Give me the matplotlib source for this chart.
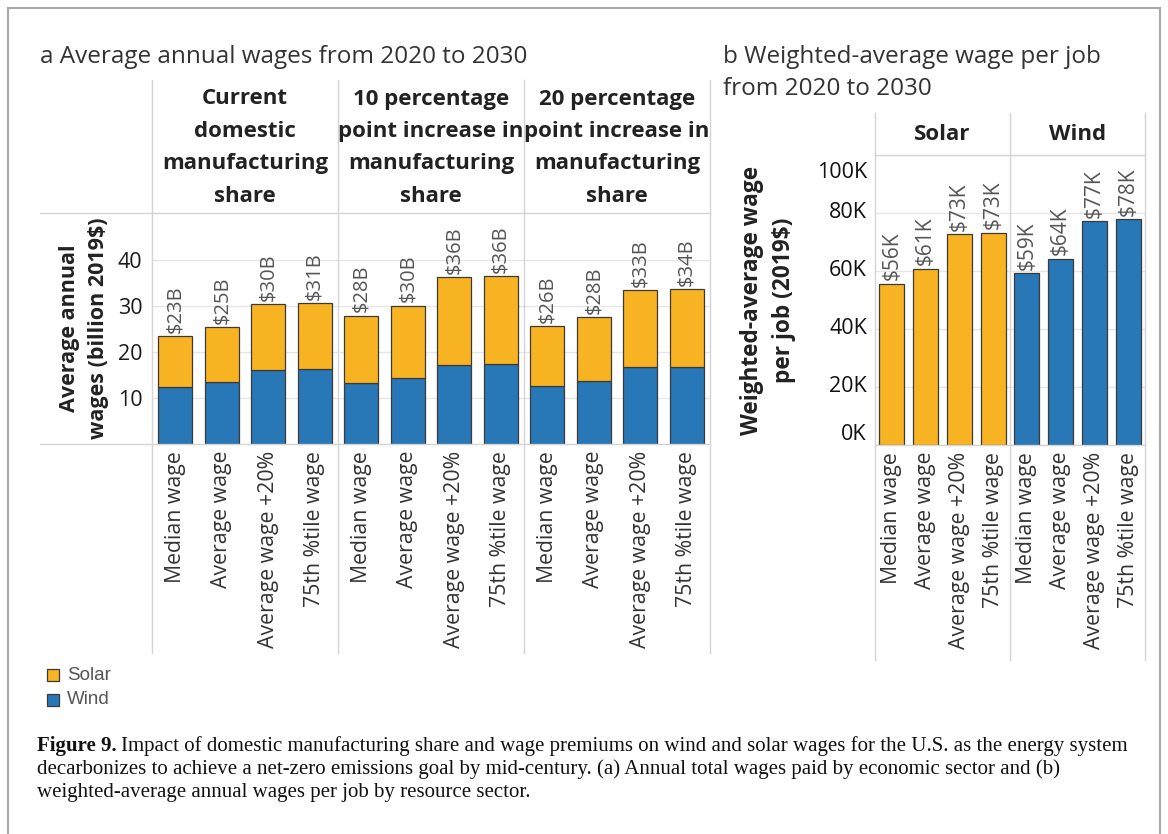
import matplotlib
matplotlib.use("Agg")
import matplotlib.pyplot as plt
from matplotlib.lines import Line2D
from matplotlib.patches import Rectangle
import matplotlib.transforms as mtransforms

# ---- data -------------------------------------------------------------
wage_levels = ["Median wage", "Average wage", "Average wage +20%", "75th %tile wage"]
scenarios = [
    "Current\ndomestic\nmanufacturing\nshare",
    "10 percentage\npoint increase in\nmanufacturing\nshare",
    "20 percentage\npoint increase in\nmanufacturing\nshare",
]
# Average annual wages, billion 2019$ (per scenario, per wage level)
wind_wages = [12.3, 13.4, 16.0, 16.3,
              13.3, 14.3, 17.2, 17.5,
              12.7, 13.8, 16.7, 16.7]
total_wages = [23.4, 25.4, 30.4, 30.7,
               27.9, 30.1, 36.3, 36.45,
               25.7, 27.6, 33.4, 33.6]
# Weighted-average wage per job, thousand 2019$
sectors = ["Solar", "Wind"]
solar_per_job = [55.6, 60.7, 72.6, 73.2]
wind_per_job = [59.2, 64.2, 77.1, 77.8]

ticks_a = [10, 20, 30, 40]
ticks_b = [0, 20, 40, 60, 80, 100]

SOLAR = "#F8B323"
WIND = "#2877B6"
EDGE = "#3a3a3a"
GRID = "#e6e6e6"
SEP = "#d4d4d4"
TXT = "#333333"

SANS = ["Open Sans", "DejaVu Sans"]
plt.rcParams["font.family"] = SANS

W, H = 1168, 834
fig = plt.figure(figsize=(W / 100, H / 100), dpi=100)


def fx(px):
    return px / W


def fy(py):
    return 1 - py / H


def fline(x0, y0, x1, y1, color=SEP, lw=1.0):
    fig.add_artist(Line2D([fx(x0), fx(x1)], [fy(y0), fy(y1)],
                          transform=fig.transFigure, color=color, lw=lw))


def add_axes_px(left, top, right, bottom):
    return fig.add_axes([fx(left), fy(bottom), (right - left) / W, (bottom - top) / H])


# outer frame (open at the bottom edge of the page)
fig.add_artist(Rectangle((fx(8), fy(850)), (1160 - 8) / W, (850 - 8) / H,
                         transform=fig.transFigure, fill=False,
                         edgecolor="#a8a8a8", lw=1.5))

# ---- panel a ----------------------------------------------------------
A_L, A_T, A_R, A_B = 152, 213, 710, 444
axA = add_axes_px(A_L, A_T, A_R, A_B)
n_a = len(total_wages)
xa = list(range(n_a))
solar_wages = [t - w for t, w in zip(total_wages, wind_wages)]
axA.bar(xa, wind_wages, width=0.74, color=WIND, edgecolor=EDGE, linewidth=0.9, zorder=3)
axA.bar(xa, solar_wages, bottom=wind_wages, width=0.74, color=SOLAR,
        edgecolor=EDGE, linewidth=0.9, zorder=3)
for x, t in zip(xa, total_wages):
    axA.text(x, t + 0.7, f"${t:.0f}B", rotation=90, ha="center", va="bottom",
             fontsize=14.5, color="#555555", zorder=4)
axA.set_xlim(-0.5, n_a - 0.5)
axA.set_ylim(0, (A_B - A_T) / 4.6)
axA.set_yticks(ticks_a)
axA.set_yticklabels([str(t) for t in ticks_a], fontsize=15.5, color="#1a1a1a",
                    fontweight="medium")
axA.set_xticks(xa)
axA.set_xticklabels(wage_levels * len(scenarios), rotation=90, fontsize=15.3,
                    color=TXT, va="top", ha="center")
axA.tick_params(axis="both", length=0)
axA.tick_params(axis="x", pad=5)
axA.tick_params(axis="y", pad=7)
axA.grid(axis="y", color=GRID, lw=1, zorder=0)
for s in axA.spines.values():
    s.set_visible(False)

fig.text(fx(40), fy(57), "a Average annual wages from 2020 to 2030",
         fontsize=17.5, color=TXT, ha="left", va="center")
fig.text(fx(84), fy(328), "Average annual\nwages (billion 2019$)", rotation=90,
         fontsize=15.5, fontweight="bold", color="#222222", ha="center", va="center",
         linespacing=1.5)

# column headers and separators of panel a
sep_a = [A_L + (A_R - A_L) * k / len(scenarios) for k in range(len(scenarios) + 1)]
for k, name in enumerate(scenarios):
    cx = (sep_a[k] + sep_a[k + 1]) / 2
    for j, line in enumerate(name.split("\n")):
        fig.text(fx(cx), fy(99 + 32.5 * j), line, fontsize=16, fontweight="bold",
                 color="#222222", ha="center", va="center")
for x in sep_a:
    fline(x, 80, x, 653)
fline(40, A_T, A_R, A_T)
fline(40, A_B, A_R, A_B)

# legend
for j, (lab, col) in enumerate([("Solar", SOLAR), ("Wind", WIND)]):
    yc = 675 + 25 * j
    fig.add_artist(Rectangle((fx(47), fy(yc + 6)), 12 / W, 12 / H,
                             transform=fig.transFigure, facecolor=col,
                             edgecolor=EDGE, lw=0.9))
    fig.text(fx(67), fy(yc), lab, fontsize=13.5, color="#555555", ha="left",
             va="center", family=["Liberation Sans", "DejaVu Sans"])

# ---- panel b ----------------------------------------------------------
B_L, B_T, B_R, B_B = 875, 155, 1145, 445
axB = add_axes_px(B_L, B_T, B_R, B_B)
per_job = solar_per_job + wind_per_job
colors_b = [SOLAR] * len(solar_per_job) + [WIND] * len(wind_per_job)
xb = list(range(len(per_job)))
axB.bar(xb, per_job, width=0.74, color=colors_b, edgecolor=EDGE, linewidth=0.9, zorder=3)
for x, v in zip(xb, per_job):
    axB.text(x, v + 1.3, f"${v:.0f}K", rotation=90, ha="center", va="bottom",
             fontsize=15, color="#555555", zorder=4)
axB.set_xlim(-0.5, len(per_job) - 0.5)
axB.set_ylim(0, 100)
axB.set_yticks(ticks_b)
axB.set_yticklabels([])
axB.set_xticks(xb)
axB.set_xticklabels(wage_levels * len(sectors), rotation=90, fontsize=15.3,
                    color=TXT, va="top", ha="center")
axB.tick_params(axis="both", length=0)
axB.tick_params(axis="x", pad=5)
axB.grid(axis="y", color=GRID, lw=1, zorder=0)
for s in axB.spines.values():
    s.set_visible(False)

# y tick labels of panel b, end labels kept inside the axis range
blend = mtransforms.blended_transform_factory(axB.transAxes, axB.transData)
for t in ticks_b:
    va = "center"
    shift = 0
    if t == ticks_b[0]:
        va = "bottom"
    elif t == ticks_b[-1]:
        va = "top"
        shift = -7
    tr = blend + mtransforms.ScaledTranslation(0, shift / 100, fig.dpi_scale_trans)
    axB.text(-0.03, t, f"{t}K", transform=tr, ha="right", va=va,
             fontsize=15.5, fontweight="medium", color="#111111")

fig.text(fx(723), fy(57), "b Weighted-average wage per job", fontsize=17.5,
         color=TXT, ha="left", va="center")
fig.text(fx(723), fy(89), "from 2020 to 2030", fontsize=17.5,
         color=TXT, ha="left", va="center")
fig.text(fx(768), fy(300), "Weighted-average wage\nper job (2019$)", rotation=90,
         fontsize=16.3, fontweight="bold", color="#222222", ha="center", va="center",
         linespacing=1.4)

sep_b = [B_L + (B_R - B_L) * k / len(sectors) for k in range(len(sectors) + 1)]
for k, name in enumerate(sectors):
    cx = (sep_b[k] + sep_b[k + 1]) / 2
    fig.text(fx(cx), fy(135), name, fontsize=16, fontweight="bold",
             color="#222222", ha="center", va="center")
for x in sep_b:
    fline(x, 113, x, 660)
fline(B_L, B_T, B_R, B_T)
fline(B_L, B_B, B_R, B_B)

# ---- caption ----------------------------------------------------------
SERIF = ["Liberation Serif", "DejaVu Serif"]
cap_lines = [
    "Impact of domestic manufacturing share and wage premiums on wind and solar wages for the U.S. as the energy system",
    "decarbonizes to achieve a net-zero emissions goal by mid-century. (a) Annual total wages paid by economic sector and (b)",
    "weighted-average annual wages per job by resource sector.",
]
CAP_FS = 15
t0 = fig.text(fx(37), fy(746), "Figure 9.", fontsize=CAP_FS, fontweight="bold",
              family=SERIF, color="#111111", ha="left", va="center")
fig.canvas.draw()
bb = t0.get_window_extent()
fig.text(bb.x1 / W + 4 / W, fy(746), cap_lines[0], fontsize=CAP_FS, family=SERIF,
         color="#111111", ha="left", va="center")
fig.text(fx(37), fy(769.5), cap_lines[1], fontsize=CAP_FS, family=SERIF,
         color="#111111", ha="left", va="center")
fig.text(fx(37), fy(793), cap_lines[2], fontsize=CAP_FS, family=SERIF,
         color="#111111", ha="left", va="center")

fig.savefig("out.png", dpi=100, facecolor="white")
